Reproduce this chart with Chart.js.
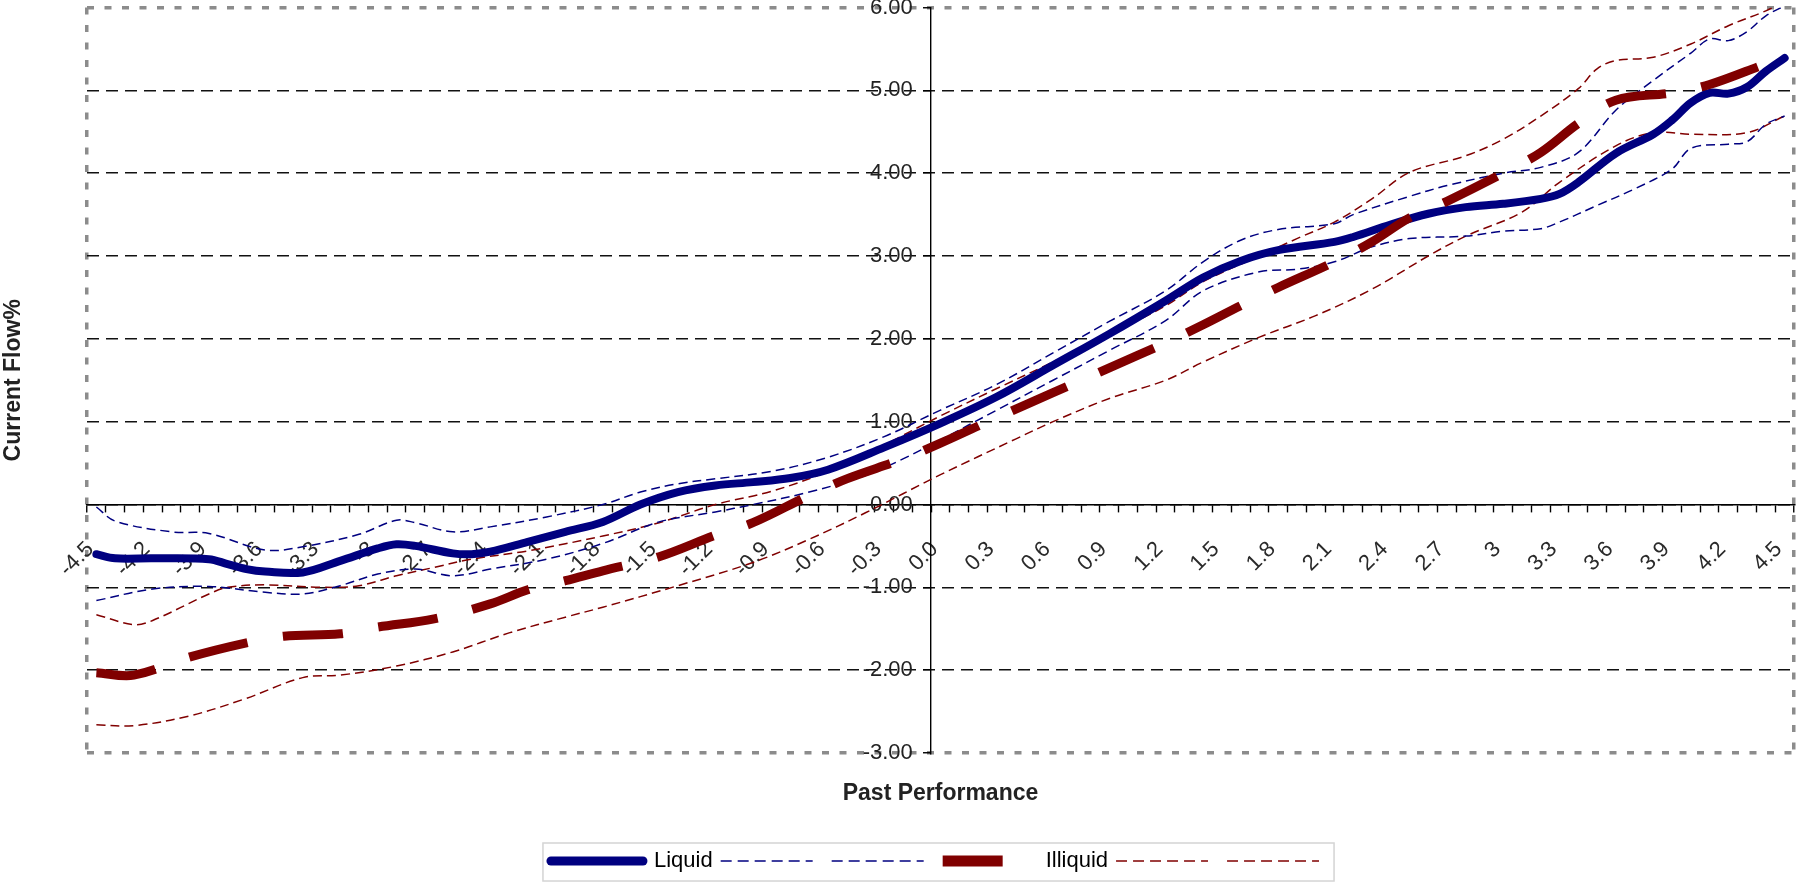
<!DOCTYPE html>
<html>
<head>
<meta charset="utf-8">
<script src="https://cdn.jsdelivr.net/npm/chart.js@4.4.1/dist/chart.umd.min.js"></script>
<style>
  html, body { margin: 0; padding: 0; background: #fff; }
  #chart { display: block; }
</style>
</head>
<body>
<canvas id="chart" width="1796" height="882"></canvas>
<script>
// past performance categories (-4.5 .. 4.5 by 0.1)
const categories = [
  '-4.5','-4.4','-4.3','-4.2','-4.1','-4.0','-3.9','-3.8','-3.7','-3.6',
  '-3.5','-3.4','-3.3','-3.2','-3.1','-3.0','-2.9','-2.8','-2.7','-2.6',
  '-2.5','-2.4','-2.3','-2.2','-2.1','-2.0','-1.9','-1.8','-1.7','-1.6',
  '-1.5','-1.4','-1.3','-1.2','-1.1','-1.0','-0.9','-0.8','-0.7','-0.6',
  '-0.5','-0.4','-0.3','-0.2','-0.1','0.0','0.1','0.2','0.3','0.4',
  '0.5','0.6','0.7','0.8','0.9','1.0','1.1','1.2','1.3','1.4',
  '1.5','1.6','1.7','1.8','1.9','2.0','2.1','2.2','2.3','2.4',
  '2.5','2.6','2.7','2.8','2.9','3.0','3.1','3.2','3.3','3.4',
  '3.5','3.6','3.7','3.8','3.9','4.0','4.1','4.2','4.3','4.4','4.5'
];
// every third category gets a label
const tickLabels = ['-4.5','-4.2','-3.9','-3.6','-3.3','-3','-2.7','-2.4','-2.1','-1.8','-1.5',
  '-1.2','-0.9','-0.6','-0.3','0.0','0.3','0.6','0.9','1.2','1.5','1.8','2.1','2.4','2.7',
  '3','3.3','3.6','3.9','4.2','4.5'];

// [past performance, current flow %]
const liquid = [[-4.5,-0.60],[-4.4,-0.65],[-4.2,-0.65],[-3.9,-0.66],[-3.8,-0.72],[-3.7,-0.78],
  [-3.6,-0.81],[-3.4,-0.82],[-3.2,-0.68],[-3.0,-0.53],[-2.9,-0.48],[-2.8,-0.50],[-2.6,-0.59],
  [-2.5,-0.60],[-2.4,-0.57],[-2.2,-0.45],[-2.0,-0.33],[-1.8,-0.21],[-1.6,0.00],[-1.4,0.15],
  [-1.2,0.23],[-1.0,0.27],[-0.8,0.32],[-0.6,0.42],[-0.3,0.69],[0.0,0.98],[0.3,1.30],[0.6,1.68],
  [0.9,2.06],[1.2,2.46],[1.4,2.74],[1.6,2.94],[1.8,3.07],[2.1,3.17],[2.2,3.23],[2.4,3.38],
  [2.6,3.51],[2.8,3.59],[3.0,3.63],[3.2,3.69],[3.3,3.75],[3.4,3.89],[3.6,4.24],[3.8,4.47],
  [3.9,4.64],[4.0,4.85],[4.1,4.97],[4.2,4.96],[4.3,5.04],[4.4,5.23],[4.5,5.39]];
const liquidHi = [[-4.5,-0.03],[-4.4,-0.20],[-4.1,-0.33],[-3.9,-0.35],[-3.6,-0.55],[-3.4,-0.51],
  [-3.1,-0.36],[-2.9,-0.19],[-2.8,-0.22],[-2.6,-0.33],[-2.4,-0.27],[-2.1,-0.15],[-1.8,0.00],
  [-1.6,0.15],[-1.4,0.25],[-1.2,0.31],[-0.9,0.40],[-0.6,0.57],[-0.3,0.82],[0.0,1.14],[0.3,1.45],
  [0.6,1.83],[0.9,2.21],[1.2,2.58],[1.4,2.93],[1.6,3.19],[1.8,3.32],[2.1,3.39],[2.2,3.50],
  [2.5,3.72],[2.7,3.85],[3.0,4.00],[3.2,4.07],[3.4,4.25],[3.6,4.76],[3.8,5.12],[4.0,5.45],
  [4.1,5.62],[4.2,5.60],[4.3,5.71],[4.4,5.90],[4.5,6.02]];
const liquidLo = [[-4.5,-1.16],[-4.2,-1.02],[-3.9,-0.99],[-3.6,-1.06],[-3.4,-1.08],[-3.2,-0.98],
  [-3.0,-0.84],[-2.8,-0.78],[-2.6,-0.86],[-2.4,-0.78],[-2.1,-0.66],[-1.8,-0.47],[-1.5,-0.21],
  [-1.2,-0.09],[-1.0,0.00],[-0.7,0.15],[-0.4,0.35],[-0.2,0.55],[0.0,0.78],[0.3,1.14],[0.6,1.50],
  [0.9,1.86],[1.2,2.22],[1.4,2.58],[1.7,2.81],[1.9,2.84],[2.1,2.93],[2.3,3.11],[2.5,3.21],
  [2.8,3.24],[3.0,3.30],[3.2,3.33],[3.3,3.41],[3.5,3.61],[3.7,3.81],[3.9,4.05],[4.0,4.30],
  [4.2,4.35],[4.3,4.38],[4.4,4.59],[4.5,4.69]];
const illiquid = [[-4.5,-2.03],[-4.3,-2.06],[-4.0,-1.84],[-3.7,-1.67],[-3.5,-1.59],[-3.2,-1.56],
  [-3.0,-1.48],[-2.7,-1.38],[-2.4,-1.20],[-2.2,-1.03],[-2.0,-0.92],[-1.8,-0.80],[-1.5,-0.63],
  [-1.2,-0.37],[-1.0,-0.22],[-0.7,0.11],[-0.5,0.31],[-0.2,0.55],[0.0,0.74],[0.3,1.05],[0.6,1.35],
  [0.9,1.65],[1.2,1.95],[1.4,2.17],[1.6,2.40],[1.8,2.62],[2.1,2.93],[2.3,3.17],[2.5,3.46],
  [2.7,3.66],[3.0,4.00],[3.2,4.25],[3.4,4.60],[3.6,4.88],[3.9,4.97],[4.1,5.07],[4.4,5.32],[4.5,5.40]];
const illiquidHi = [[-4.5,-1.33],[-4.3,-1.45],[-4.2,-1.40],[-3.9,-1.08],[-3.8,-1.00],[-3.6,-0.97],
  [-3.3,-1.00],[-3.1,-0.98],[-2.9,-0.86],[-2.7,-0.76],[-2.5,-0.66],[-2.2,-0.56],[-1.8,-0.38],
  [-1.5,-0.22],[-1.2,0.00],[-0.9,0.16],[-0.6,0.40],[-0.3,0.72],[0.0,1.07],[0.3,1.40],[0.6,1.72],
  [0.9,2.05],[1.2,2.40],[1.4,2.69],[1.7,3.00],[1.9,3.21],[2.1,3.41],[2.3,3.69],[2.5,4.01],
  [2.8,4.21],[3.0,4.41],[3.2,4.69],[3.4,5.02],[3.5,5.26],[3.6,5.36],[3.8,5.40],[4.0,5.56],
  [4.2,5.78],[4.4,5.96],[4.5,6.08]];
const illiquidLo = [[-4.5,-2.66],[-4.3,-2.67],[-4.0,-2.55],[-3.7,-2.34],[-3.4,-2.09],[-3.2,-2.06],
  [-2.9,-1.95],[-2.6,-1.78],[-2.3,-1.55],[-2.0,-1.36],[-1.8,-1.24],[-1.4,-0.98],[-1.0,-0.70],
  [-0.7,-0.42],[-0.4,-0.10],[0.0,0.36],[0.4,0.79],[0.6,1.00],[0.9,1.28],[1.2,1.50],[1.4,1.72],
  [1.7,2.02],[2.0,2.28],[2.3,2.60],[2.6,3.00],[2.8,3.24],[3.1,3.53],[3.3,3.89],[3.6,4.33],
  [3.8,4.49],[4.0,4.47],[4.3,4.49],[4.5,4.69]];

const FONT = "'Liberation Sans', Arial, sans-serif";
const navy = '#000080';
const maroon = '#800000';
const frameGray = '#8c8c8c';

const toPoints = (s) => s.map(([x, y]) => ({ x: x.toFixed(1), y: y }));
const isEdgeX = (c) => c.index === 0 || c.type === 'scale';
const isEdgeY = (c) => c.tick && (c.tick.value === 6 || c.tick.value === -3);

// light frame round the legend, like the original
const legendFrame = {
  id: 'legendFrame',
  afterDraw(chart) {
    const lg = chart.legend;
    if (!lg || !lg.legendHitBoxes || !lg.legendHitBoxes.length) return;
    const boxes = lg.legendHitBoxes;
    const last = boxes[boxes.length - 1];
    const left = boxes[0].left - 8;
    const right = last.left + last.width + 4;
    const ctx = chart.ctx;
    ctx.save();
    ctx.strokeStyle = '#d4d4d4';
    ctx.lineWidth = 1.5;
    ctx.strokeRect(left, lg.top + 1, right - left, lg.bottom - lg.top - 2);
    ctx.restore();
  }
};

new Chart(document.getElementById('chart'), {
  type: 'line',
  data: {
    labels: categories,
    datasets: [
      { label: 'Liquid', data: toPoints(liquid), borderColor: navy, borderWidth: 8,
        borderCapStyle: 'round', borderJoinStyle: 'round', order: 1 },
      { label: '', data: toPoints(liquidHi), borderColor: navy, borderWidth: 1.5,
        borderDash: [9, 5], order: 2 },
      { label: '', data: toPoints(liquidLo), borderColor: navy, borderWidth: 1.5,
        borderDash: [9, 5], order: 2 },
      { label: 'Illiquid', data: toPoints(illiquid), borderColor: maroon, borderWidth: 9,
        borderDash: [60, 36], order: 0 },
      { label: '', data: toPoints(illiquidHi), borderColor: maroon, borderWidth: 1.5,
        borderDash: [9, 5], order: 2 },
      { label: '', data: toPoints(illiquidLo), borderColor: maroon, borderWidth: 1.5,
        borderDash: [9, 5], order: 2 }
    ]
  },
  options: {
    responsive: false,
    animation: false,
    devicePixelRatio: 1,
    layout: { padding: { top: 7.5, right: 2, bottom: 0, left: 0 } },
    elements: {
      point: { radius: 0 },
      line: { tension: 0.35, fill: false }
    },
    scales: {
      x: {
        type: 'category',
        axis: 'x',
        offset: true,
        position: { y: 0 },
        grid: {
          offset: true,
          color: (c) => isEdgeX(c) ? frameGray : 'rgba(0,0,0,0)',
          lineWidth: (c) => isEdgeX(c) ? 3.5 : 1,
          tickColor: '#000',
          tickWidth: 1.4,
          tickLength: 7
        },
        border: { display: true, color: '#000', width: 1.4, dash: [7, 10.5] },
        ticks: {
          autoSkip: false,
          minRotation: 45,
          maxRotation: 45,
          padding: 25,
          labelOffset: -6,
          color: '#2a2a2a',
          font: { family: FONT, size: 22 },
          callback: (v, i) => (i % 3 === 0 ? tickLabels[i / 3] : '')
        },
        afterFit: (s) => { s.paddingLeft = 0; s.paddingRight = 0; }
      },
      y: {
        axis: 'y',
        min: -3,
        max: 6,
        position: { x: 44.5 },
        grid: {
          color: (c) => isEdgeY(c) ? frameGray : '#111',
          lineWidth: (c) => isEdgeY(c) ? 3.5 : 1.4,
          tickColor: '#000',
          tickWidth: 1.4,
          tickLength: 7
        },
        border: {
          display: true, color: '#000', width: 1.4,
          dash: (c) => isEdgeY(c) ? [7, 10.5] : [12, 7]
        },
        ticks: {
          stepSize: 1,
          padding: 0,
          color: '#222',
          font: { family: FONT, size: 22 },
          callback: (v) => v.toFixed(2) + '   '
        },
        afterFit: (s) => { s.paddingTop = 0; s.paddingBottom = 0; }
      }
    },
    plugins: {
      tooltip: { enabled: false },
      title: {
        display: true,
        text: 'Current Flow%',
        position: 'left',
        fullSize: false,
        color: '#222',
        font: { family: FONT, size: 23, weight: 'bold' },
        padding: { top: 0, bottom: 59.4 }
      },
      subtitle: {
        display: true,
        text: 'Past Performance',
        position: 'bottom',
        fullSize: false,
        weight: 500,
        color: '#222',
        font: { family: FONT, size: 23, weight: 'bold' },
        padding: { top: 27.2, bottom: 34.2 }
      },
      legend: {
        position: 'bottom',
        fullSize: false,
        labels: {
          usePointStyle: true,
          pointStyle: 'line',
          pointStyleWidth: 92,
          padding: 8,
          color: '#000',
          font: { family: FONT, size: 22 },
          generateLabels: (chart) => chart.data.datasets.map((ds, i) => ({
            text: ds.label,
            strokeStyle: ds.borderColor,
            fillStyle: ds.borderColor,
            lineWidth: i === 0 ? 9 : (i === 3 ? 11 : 1.5),
            lineDash: i === 3 ? [60, 36] : (i === 0 ? [] : [11, 6]),
            lineCap: i === 0 ? 'round' : 'butt',
            pointStyle: 'line',
            hidden: false,
            datasetIndex: i
          }))
        }
      }
    }
  },
  plugins: [legendFrame]
});
</script>
</body>
</html>
